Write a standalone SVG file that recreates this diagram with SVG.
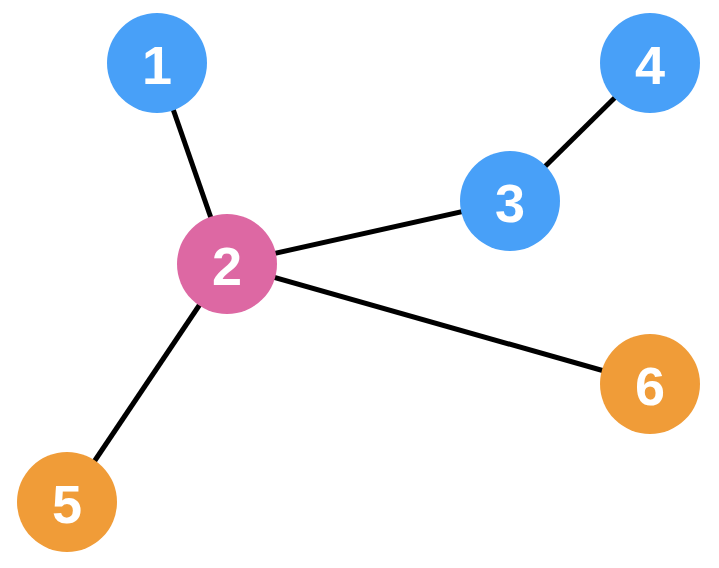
<svg xmlns="http://www.w3.org/2000/svg" width="719" height="568" viewBox="0 0 719 568">
<style>
.edge{stroke:#000;stroke-width:5;fill:none}
.blue{fill:#48a0f8}
.pink{fill:#dd68a3}
.orange{fill:#f09c38}
.lbl{fill:#fff;font-family:"Liberation Sans",Arial,sans-serif;font-weight:bold;font-size:54px;text-anchor:middle}
</style>
<rect width="719" height="568" fill="#fff"/>
<g id="edges">
<line class="edge" x1="157" y1="63" x2="227" y2="264"/>
<line class="edge" x1="227" y1="264" x2="510" y2="201"/>
<line class="edge" x1="510" y1="201" x2="650" y2="63"/>
<line class="edge" x1="227" y1="264" x2="67" y2="502"/>
<line class="edge" x1="227" y1="264" x2="650" y2="384"/>
</g>
<g id="node1"><circle class="blue" cx="157" cy="63" r="50"/><text class="lbl" x="157" y="84">1</text></g>
<g id="node2"><circle class="pink" cx="227" cy="264" r="50"/><text class="lbl" x="227" y="285">2</text></g>
<g id="node3"><circle class="blue" cx="510" cy="201" r="50"/><text class="lbl" x="510" y="222">3</text></g>
<g id="node4"><circle class="blue" cx="650" cy="63" r="50"/><text class="lbl" x="650" y="84">4</text></g>
<g id="node5"><circle class="orange" cx="67" cy="502" r="50"/><text class="lbl" x="67" y="523">5</text></g>
<g id="node6"><circle class="orange" cx="650" cy="384" r="50"/><text class="lbl" x="650" y="405">6</text></g>
</svg>
